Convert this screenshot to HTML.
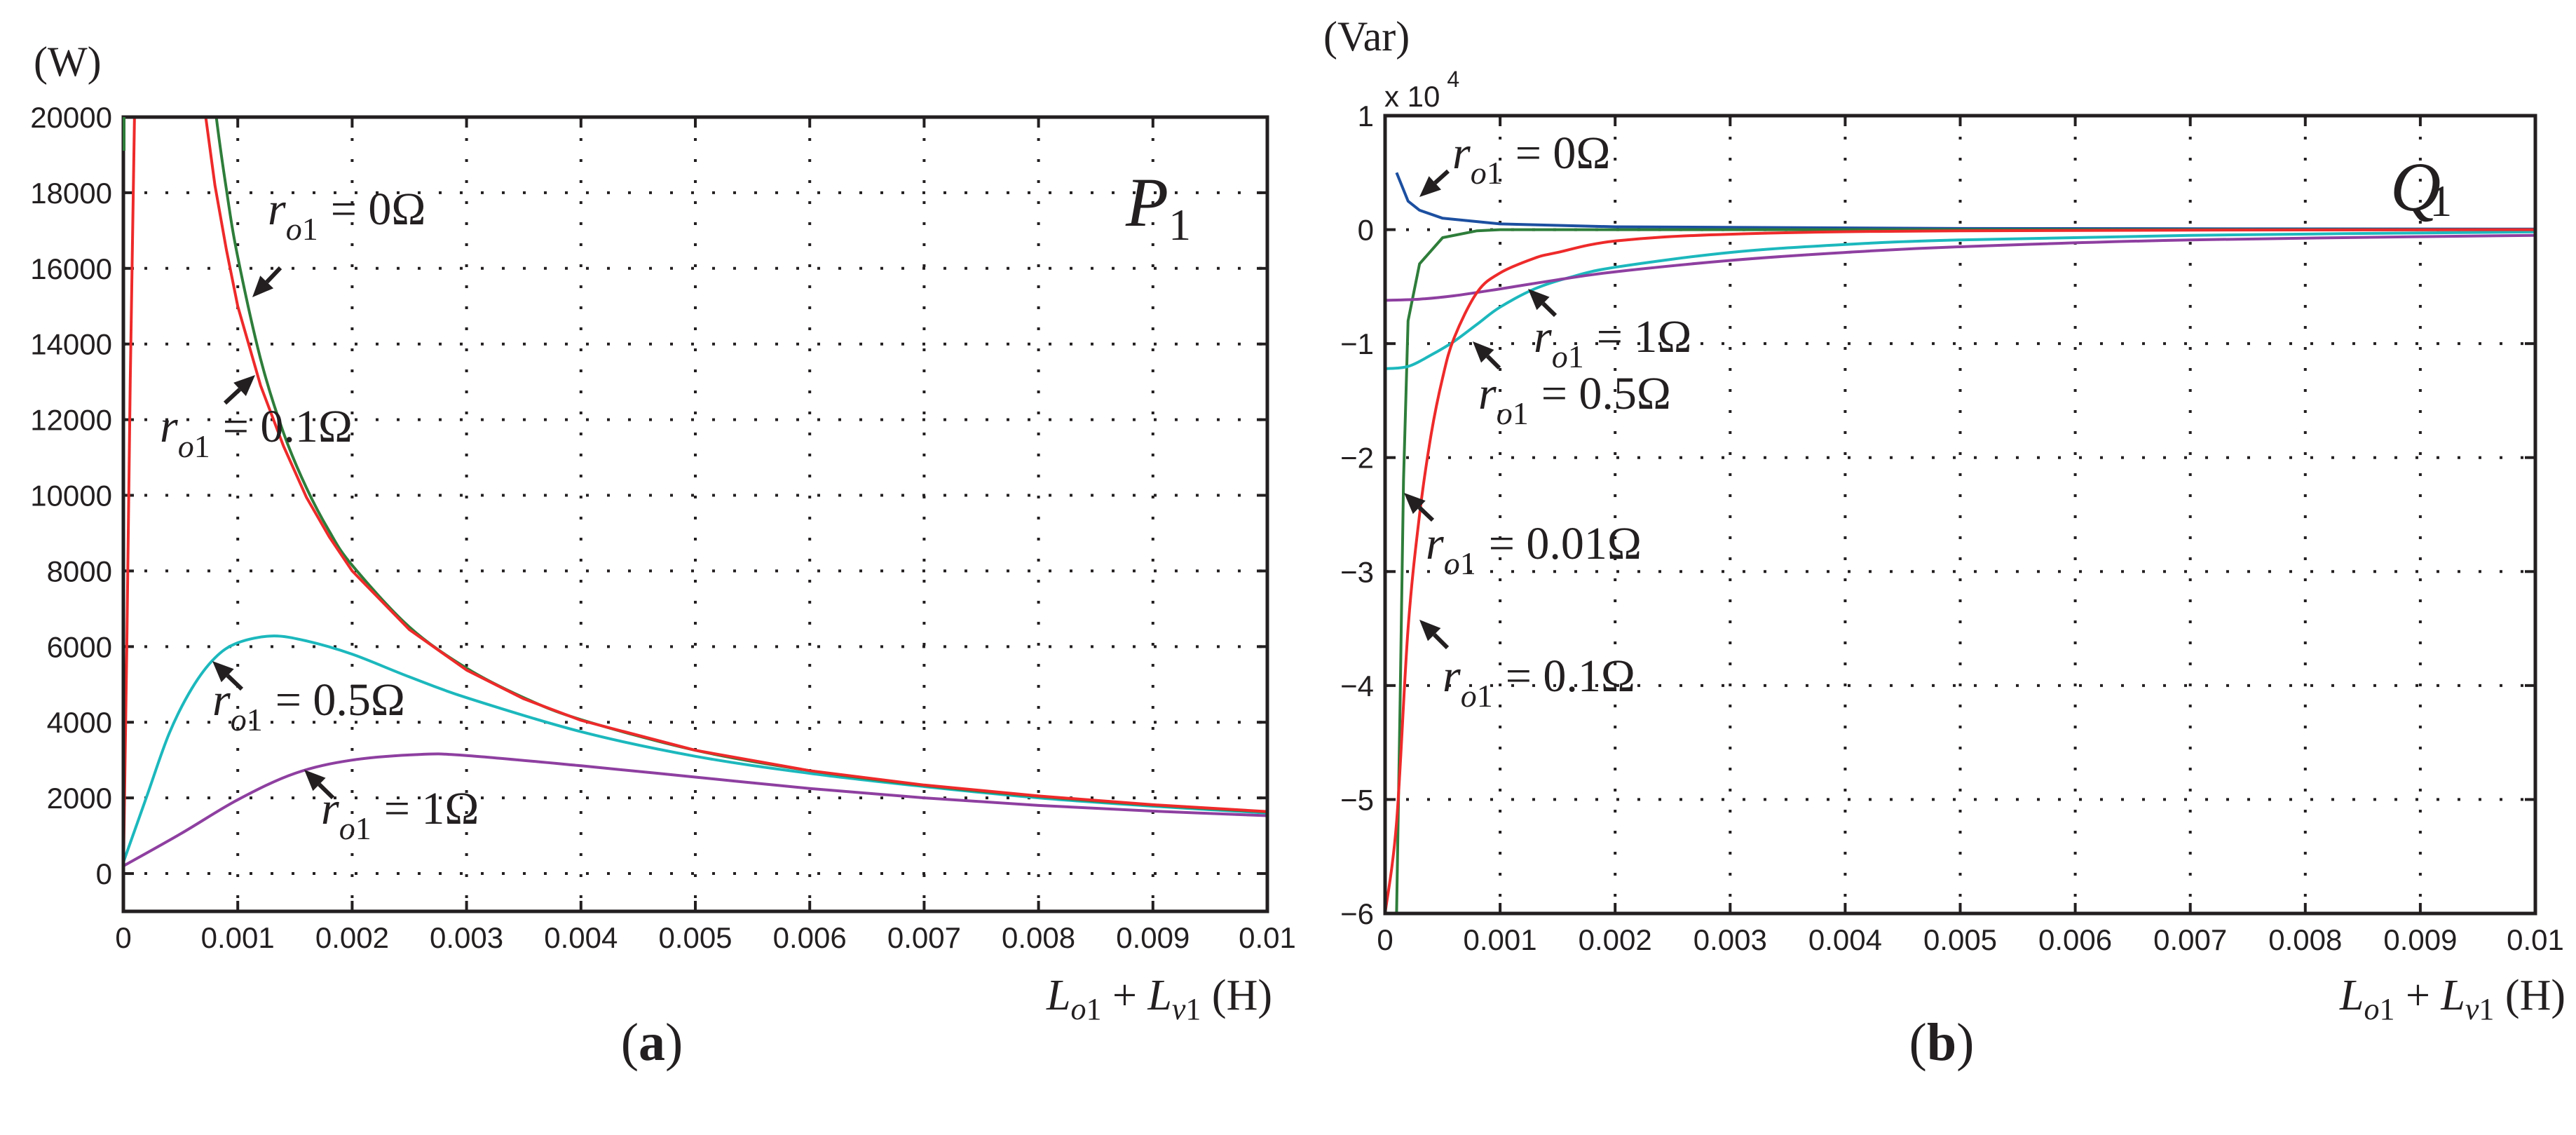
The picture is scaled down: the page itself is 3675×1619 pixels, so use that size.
<!DOCTYPE html>
<html><head><meta charset="utf-8"><style>
html,body{margin:0;padding:0;background:#fff;}
svg{display:block;}
.tick{font-family:"Liberation Sans",sans-serif;font-size:42px;fill:#231f20;}
.ser{font-family:"Liberation Serif",serif;fill:#231f20;}
</style></head><body>
<svg id="fig" width="3675" height="1619" viewBox="0 0 3675 1619" xmlns="http://www.w3.org/2000/svg">
<g id="pa"></g>
<g id="pb"></g>
</svg>
<script>
// ---- Chart (a) P1 data ----
const xTicks = [0,0.001,0.002,0.003,0.004,0.005,0.006,0.007,0.008,0.009,0.01];
const xTickLabels = ["0","0.001","0.002","0.003","0.004","0.005","0.006","0.007","0.008","0.009","0.01"];
const pYTicks = [0,2000,4000,6000,8000,10000,12000,14000,16000,18000,20000];
const pYTickLabels = ["0","2000","4000","6000","8000","10000","12000","14000","16000","18000","20000"];
const pX0 = [0.0007,0.0008,0.0009,0.001,0.0012,0.0014,0.0016,0.0018,0.002,0.0025,0.003,0.0035,0.004,0.005,0.006,0.007,0.008,0.009,0.01];
const pR0 = [23200,20300,18100,16300,13600,11650,10200,9050,8150,6520,5430,4650,4070,3260,2720,2330,2040,1810,1630];
const pR01X = [0,0.00003,0.00006,0.0001,0.00072,0.0008,0.0009,0.001,0.0012,0.0014,0.0016,0.0018,0.002,0.0025,0.003,0.0035,0.004,0.005,0.006,0.007,0.008,0.009,0.01];
const pR01 = [0,6000,13000,20500,20000,18200,16500,15000,12900,11300,9950,8900,8000,6450,5380,4620,4050,3260,2720,2340,2050,1820,1640];
const pR05X = [0,0.0002,0.0004,0.0006,0.0008,0.001,0.0013,0.0016,0.002,0.0025,0.003,0.004,0.005,0.006,0.007,0.008,0.009,0.01];
const pR05 = [300,2000,3700,4900,5700,6100,6280,6150,5800,5200,4650,3750,3100,2650,2300,2000,1780,1600];
const pR1X = [0,0.0005,0.001,0.0015,0.002,0.0026,0.003,0.004,0.005,0.006,0.007,0.008,0.009,0.01];
const pR1 = [200,1050,1950,2650,3000,3150,3120,2850,2550,2250,2000,1800,1650,1530];
// ---- Chart (b) Q1 data (x 10^4) ----
const qYTicks = [-6,-5,-4,-3,-2,-1,0,1];
const qYTickLabels = ["\u22126","\u22125","\u22124","\u22123","\u22122","\u22121","0","1"];
const qR0X = [0.0001,0.0002,0.0003,0.0005,0.001,0.002,0.005,0.01];
const qR0 = [0.5,0.25,0.17,0.1,0.05,0.025,0.01,0.005];
const qR001X = [0.0001,0.00013,0.00016,0.0002,0.0003,0.0005,0.0008,0.001,0.01];
const qR001 = [-6,-4.2,-2.2,-0.8,-0.3,-0.07,-0.01,0,0];
const qR01X = [0,0.0001,0.0002,0.0003,0.0004,0.0005,0.0006,0.0008,0.001,0.0013,0.0015,0.002,0.003,0.005,0.01];
const qR01 = [-6,-5.2,-3.5,-2.5,-1.8,-1.3,-0.95,-0.55,-0.38,-0.25,-0.2,-0.1,-0.04,-0.01,0];
const qR05X = [0,0.0002,0.0004,0.0006,0.0008,0.001,0.0013,0.0016,0.002,0.003,0.004,0.005,0.007,0.01];
const qR05 = [-1.22,-1.2,-1.1,-0.98,-0.83,-0.68,-0.52,-0.42,-0.33,-0.2,-0.13,-0.09,-0.05,-0.02];
const qR1X = [0,0.0003,0.0006,0.001,0.0015,0.002,0.003,0.004,0.005,0.007,0.01];
const qR1 = [-0.62,-0.61,-0.58,-0.52,-0.44,-0.37,-0.27,-0.2,-0.15,-0.09,-0.05];

const NS="http://www.w3.org/2000/svg";
function mk(parent,tag,attrs,text){const e=document.createElementNS(NS,tag);for(const k in attrs)e.setAttribute(k,attrs[k]);if(text!==undefined)e.textContent=text;parent.appendChild(e);return e;}

function smoothPath(pts){
  let d='M'+pts[0][0].toFixed(1)+' '+pts[0][1].toFixed(1);
  for(let i=0;i<pts.length-1;i++){
    const p0=pts[Math.max(0,i-1)],p1=pts[i],p2=pts[i+1],p3=pts[Math.min(pts.length-1,i+2)];
    const c1x=p1[0]+(p2[0]-p0[0])/6,c1y=p1[1]+(p2[1]-p0[1])/6;
    const c2x=p2[0]-(p3[0]-p1[0])/6,c2y=p2[1]-(p3[1]-p1[1])/6;
    d+=` C${c1x.toFixed(1)} ${c1y.toFixed(1)} ${c2x.toFixed(1)} ${c2y.toFixed(1)} ${p2[0].toFixed(1)} ${p2[1].toFixed(1)}`;
  }
  return d;
}

function drawChart(g,L,R,T,B,ymin,ymax,yTicks,yLabels,series,pre){
  const sx=v=>L+(v-0)/(0.01)*(R-L);
  const sy=v=>B-(v-ymin)/(ymax-ymin)*(B-T);
  const clip=mk(g,'clipPath',{id:pre+'clip'});mk(clip,'rect',{x:L,y:T,width:R-L,height:B-T});
  const grid=mk(g,'g',{});
  
  
  xTicks.forEach((t,i)=>{
    const x=sx(t);
    if(i>0&&i<xTicks.length-1){const l=mk(grid,'line',{x1:x,y1:T,x2:x,y2:B,stroke:'#231f20','stroke-width':4,'stroke-dasharray':'4 26'});
      
      }
    mk(grid,'line',{x1:x,y1:B,x2:x,y2:B-15,stroke:'#231f20','stroke-width':4});
    mk(grid,'line',{x1:x,y1:T,x2:x,y2:T+15,stroke:'#231f20','stroke-width':4});
    const tl=mk(g,'text',{x:x,y:B+52,'text-anchor':'middle',class:'tick'},xTickLabels[i]);
    
    
  });
  yTicks.forEach((t,i)=>{
    const y=sy(t);
    if(y>T+2&&y<B-2){const l=mk(grid,'line',{x1:L,y1:y,x2:R,y2:y,stroke:'#231f20','stroke-width':4,'stroke-dasharray':'4 26'});
      
      }
    mk(grid,'line',{x1:L,y1:y,x2:L+15,y2:y,stroke:'#231f20','stroke-width':4});
    mk(grid,'line',{x1:R,y1:y,x2:R-15,y2:y,stroke:'#231f20','stroke-width':4});
    const tl=mk(g,'text',{x:L-16,y:y+15,'text-anchor':'end',class:'tick'},yLabels[i]);
    
    
  });
  const sg=mk(g,'g',{'clip-path':'url(#'+pre+'clip)'});
  series.forEach(s=>{
    const pts=s.x.map((v,i)=>[sx(v),sy(s.y[i])]);
    const d=s.smooth?smoothPath(pts):pts.map((p,i)=>(i?'L':'M')+p[0].toFixed(1)+' '+p[1].toFixed(1)).join(' ');
    const p=mk(sg,'path',{d:d,fill:'none',stroke:s.c,'stroke-width':4,'stroke-linejoin':'round'});
    
    
  });
  const f=mk(g,'rect',{x:L,y:T,width:R-L,height:B-T,fill:'none',stroke:'#231f20','stroke-width':5});
  
  
}

const ga=document.getElementById('pa'), gb=document.getElementById('pb');
drawChart(ga,176,1808,167,1300,-1000,20000,pYTicks,pYTickLabels,[
  {x:pR1X,y:pR1,c:'#8e3fa0',n:'line-r1',smooth:true},
  {x:pR05X,y:pR05,c:'#1cb8bd',n:'line-r05',smooth:true},
  {x:pX0,y:pR0,c:'#2e7d3a',n:'line-r0',smooth:true},
  {x:pR01X,y:pR01,c:'#ee2a2a',n:'line-r01'}
],'a-');
mk(ga,'line',{x1:177,y1:167,x2:177,y2:215,stroke:'#2e7d3a','stroke-width':4});
drawChart(gb,1976,3617,165,1303,-6,1,qYTicks,qYTickLabels,[
  {x:qR0X,y:qR0,c:'#1c4fa0',n:'line-q-r0'},
  {x:qR001X,y:qR001,c:'#2e7d3a',n:'line-q-r001'},
  {x:qR05X,y:qR05,c:'#1cb8bd',n:'line-q-r05',smooth:true},
  {x:qR1X,y:qR1,c:'#8e3fa0',n:'line-q-r1',smooth:true},
  {x:qR01X,y:qR01,c:'#ee2a2a',n:'line-q-r01',smooth:true}
],'b-');

function arrow(g,x1,y1,x2,y2,name){
  const a=Math.atan2(y2-y1,x2-x1), h=30, w=13;
  const bx=x2-h*Math.cos(a), by=y2-h*Math.sin(a);
  const e=mk(g,'g',{});
  
  
  mk(e,'line',{x1:x1,y1:y1,x2:bx,y2:by,stroke:'#231f20','stroke-width':6});
  mk(e,'polygon',{points:`${x2},${y2} ${bx+w*Math.sin(a)},${by-w*Math.cos(a)} ${bx-w*Math.sin(a)},${by+w*Math.cos(a)}`,fill:'#231f20'});
}
function rlabel(g,x,y,val,name){
  const t=mk(g,'text',{x:x,y:y,class:'ser','font-size':66});
  
  
  mk(t,'tspan',{'font-style':'italic'},'r');
  mk(t,'tspan',{dy:22,'font-size':46,'font-style':'italic'},'o');
  mk(t,'tspan',{'font-size':46},'1');
  mk(t,'tspan',{dy:-22,dx:18},'= '+val+'\u03A9');
}
// annotations (a)
rlabel(ga,382,320,'0',"label-r0");
arrow(ga,400,382,360,424,'arrow-r0');
arrow(ga,321,575,364,535,'arrow-r01');
rlabel(ga,228,630,'0.1',"label-r01");
arrow(ga,345,983,303,943,'arrow-r05');
rlabel(ga,303,1020,'0.5',"label-r05");
arrow(ga,475,1138,434,1098,'arrow-r1');
rlabel(ga,458,1175,'1',"label-r1");
// annotations (b)
rlabel(gb,2072,240,'0',"q-label-r0");
arrow(gb,2066,244,2025,281,'q-arrow-r0');
arrow(gb,2219,450,2180,412,'q-arrow-r1');
rlabel(gb,2188,502,'1',"q-label-r1");
arrow(gb,2139,525,2101,487,'q-arrow-r05');
rlabel(gb,2109,583,'0.5',"q-label-r05");
arrow(gb,2044,742,2003,703,'q-arrow-r001');
rlabel(gb,2034,797,'0.01',"q-label-r001");
arrow(gb,2065,924,2025,884,'q-arrow-r01');
rlabel(gb,2058,986,'0.1',"q-label-r01");

function txt(g,x,y,s,attrs,name){const t=mk(g,'text',Object.assign({x:x,y:y,class:'ser'},attrs),s);
  
  return t;}
txt(ga,48,108,'(W)',{'font-size':60},'y-axis-unit');
txt(gb,1888,72,'(Var)',{'font-size':60},'q-y-axis-unit');
const ex=mk(gb,'text',{x:1975,y:152,class:'tick','font-size':42});


mk(ex,'tspan',{},'x 10');mk(ex,'tspan',{dy:-28,dx:10,'font-size':32},'4');
// P1, Q1
const p1=txt(ga,1606,322,'',{'font-size':100},'p1-title');
mk(p1,'tspan',{'font-style':'italic'},'P');mk(p1,'tspan',{dy:20,'font-size':64},'1');
const q1=txt(gb,3410,300,'',{'font-size':100},'q1-title');
mk(q1,'tspan',{'font-style':'italic'},'Q');mk(q1,'tspan',{dy:8,dx:-16,'font-size':64},'1');
function xlabel(g,xr,y,name){
  const t=mk(g,'text',{x:xr,y:y,class:'ser','font-size':62,'text-anchor':'end'});
  
  
  mk(t,'tspan',{'font-style':'italic'},'L');
  mk(t,'tspan',{dy:14,'font-size':44,'font-style':'italic'},'o');
  mk(t,'tspan',{'font-size':44},'1');
  mk(t,'tspan',{dy:-14},' + ');
  mk(t,'tspan',{'font-style':'italic'},'L');
  mk(t,'tspan',{dy:14,'font-size':44,'font-style':'italic'},'v');
  mk(t,'tspan',{'font-size':44},'1');
  mk(t,'tspan',{dy:-14},'  (H)');
}
xlabel(ga,1815,1440,'x-axis-title');
xlabel(gb,3660,1440,'q-x-axis-title');
const la=mk(ga,'text',{x:930,y:1512,class:'ser','font-size':76,'text-anchor':'middle'});


mk(la,'tspan',{},'(');mk(la,'tspan',{'font-weight':'bold'},'a');mk(la,'tspan',{},')');
const lb=mk(gb,'text',{x:2770,y:1512,class:'ser','font-size':76,'text-anchor':'middle'});


mk(lb,'tspan',{},'(');mk(lb,'tspan',{'font-weight':'bold'},'b');mk(lb,'tspan',{},')');
</script>
</body></html>
